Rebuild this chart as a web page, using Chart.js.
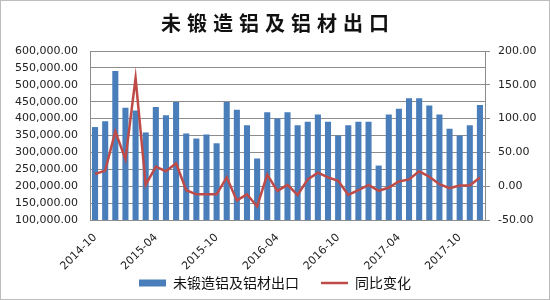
<!DOCTYPE html>
<html>
<head>
<meta charset="utf-8">
<script src="https://cdn.jsdelivr.net/npm/chart.js@4.4.1/dist/chart.umd.min.js"></script>
<style>
  html, body { margin: 0; padding: 0; background: #fff; }
  #wrap { position: relative; width: 550px; height: 300px; }
  #frame { position: absolute; left: 0; top: 0; right: 0; bottom: 0; border: 1px solid #bdbdbd; pointer-events: none; }
  canvas { display: block; }
</style>
</head>
<body>
<div id="wrap">
  <canvas id="c" width="550" height="300"></canvas>
  <div id="frame"></div>
</div>
<script>
// ---- data ----
const months = [
  '2014-10','2014-11','2014-12',
  '2015-01','2015-02','2015-03','2015-04','2015-05','2015-06','2015-07','2015-08','2015-09','2015-10','2015-11','2015-12',
  '2016-01','2016-02','2016-03','2016-04','2016-05','2016-06','2016-07','2016-08','2016-09','2016-10','2016-11','2016-12',
  '2017-01','2017-02','2017-03','2017-04','2017-05','2017-06','2017-07','2017-08','2017-09','2017-10','2017-11','2017-12'
];
const shownLabels = ['2014-10','2015-04','2015-10','2016-04','2016-10','2017-04','2017-10'];
const exportVolume = [
  375000, 392000, 541000,
  432000, 424000, 359000, 434000, 410000, 449000, 356000, 341000, 353000, 327000, 449000, 426000,
  380000, 282000, 419000, 400000, 419000, 380000, 391000, 412000, 391000, 350000, 380000, 391000,
  391000, 261000, 412000, 429000, 460000, 460000, 439000, 412000, 370000, 350000, 380000, 440000
];
const yoyChange = [
  18, 23, 81,
  40, 160, 2, 29, 22, 34, -6, -12, -12, -12, 13, -21,
  -12, -30, 17, -7, 2, -13, 10, 20, 13, 8, -13, -6,
  2, -7, -2, 7, 10, 22, 14, 3, -3, 1, 1, 13
];
const seriesNames = ['未锻造铝及铝材出口', '同比变化'];
const chartTitle = '未锻造铝及铝材出口';

const tickFont = { family: 'DejaVu Sans', size: 11 };
const gridColor = '#8c8c8c';

const titleSpacing = {
  id: 'titleSpacing',
  afterLayout(chart) {
    const tb = chart.titleBlock;
    if (tb && !tb._spaced) {
      const orig = tb.draw.bind(tb);
      tb.draw = function () {
        const ctx = chart.ctx;
        ctx.save();
        ctx.letterSpacing = '6px';
        ctx.translate(3, 0);
        orig();
        ctx.restore();
      };
      tb._spaced = true;
    }
  }
};

new Chart(document.getElementById('c'), {
  data: {
    labels: months,
    datasets: [
      {
        type: 'line',
        label: seriesNames[1],
        data: yoyChange,
        yAxisID: 'y1',
        borderColor: '#be4b48',
        backgroundColor: '#be4b48',
        borderWidth: 2.5,
        pointRadius: 0,
        tension: 0,
        pointStyle: 'line',
        order: 0
      },
      {
        type: 'bar',
        label: seriesNames[0],
        data: exportVolume,
        yAxisID: 'y',
        backgroundColor: '#4a7ebb',
        borderWidth: 0,
        categoryPercentage: 1,
        barPercentage: 0.6,
        pointStyle: 'rect',
        order: 1
      }
    ]
  },
  options: {
    responsive: false,
    animation: false,
    devicePixelRatio: 1,
    layout: { padding: { left: 0, right: 0, top: 0, bottom: 0 } },
    plugins: {
      title: {
        display: true,
        text: chartTitle,
        color: '#111',
        font: { family: 'Noto Sans CJK SC', size: 20, weight: 'bold' },
        padding: { top: 11, bottom: 16 }
      },
      legend: {
        position: 'bottom',
        reverse: true,
        labels: {
          usePointStyle: true,
          pointStyleWidth: 27,
          boxHeight: 7,
          color: '#111',
          font: { family: 'Noto Sans CJK SC', size: 14 },
          padding: 22
        }
      },
      tooltip: { enabled: false }
    },
    scales: {
      x: {
        type: 'category',
        offset: true,
        grid: { display: false, drawTicks: false },
        border: { display: true, color: gridColor, width: 1 },
        ticks: {
          autoSkip: false,
          minRotation: 45,
          maxRotation: 45,
          color: '#222',
          font: tickFont,
          padding: 11,
          callback: function (v) {
            const l = this.getLabelForValue(v);
            return shownLabels.includes(l) ? l : '';
          }
        },
        afterFit(s) {
          s.height = 34;
          s._computeLabelArea = () => undefined;
        }
      },
      y: {
        position: 'left',
        min: 100000,
        max: 600000,
        grid: { color: gridColor, lineWidth: 1, drawTicks: false },
        border: { display: true, color: gridColor, width: 1 },
        ticks: {
          autoSkip: false,
          stepSize: 50000,
          color: '#222',
          font: tickFont,
          padding: 12,
          callback: v => v.toLocaleString('en-US', { minimumFractionDigits: 2, maximumFractionDigits: 2 })
        },
        afterFit(s) { s.width = 90; }
      },
      y1: {
        position: 'right',
        min: -50,
        max: 200,
        grid: { drawOnChartArea: false, color: gridColor, tickLength: 5 },
        border: { display: true, color: gridColor, width: 1 },
        ticks: {
          autoSkip: false,
          stepSize: 50,
          color: '#222',
          font: tickFont,
          padding: 8,
          callback: v => v.toFixed(2)
        },
        afterFit(s) { s.width = 65; }
      }
    }
  },
  plugins: [titleSpacing]
});
</script>
</body>
</html>
